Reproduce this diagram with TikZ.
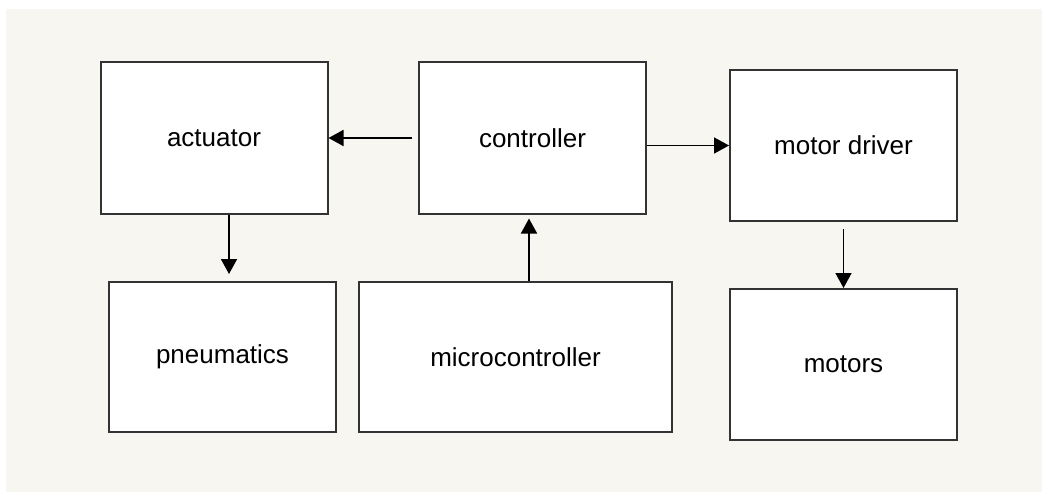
\documentclass[tikz,border=0pt]{standalone}
\usepackage{fontspec}
\setmainfont{Liberation Sans}
\usetikzlibrary{arrows.meta}
\definecolor{paper}{RGB}{248,246,240}
\tikzset{
	block/.style={draw=black!80, line width=2pt, fill=white, minimum width=227pt, minimum height=151pt, inner sep=0pt, font=\fontsize{26}{30}\selectfont},
	arr/.style={line width=1.7pt, -{Triangle[length=15pt,width=16pt]}}
}
\begin{document}
\begin{tikzpicture}[x=1pt,y=-1pt]
	\useasboundingbox[fill=white] (0,0) rectangle (1042,492);
	\fill[paper] (6,9) rectangle (1042,492);
	% top row
	\node[block] (act) at (214,138) {actuator};
	\node[block] (ctrl) at (532.5,138) {controller};
	\node[block] (mdrv) at (843.5,145.5) {motor driver};
	% bottom row
	\node[block, minimum height=150pt] (pneu) at (222.5,357) {pneumatics};
	\node[block, minimum width=313pt, minimum height=150pt] (micro) at (515.5,357) {microcontroller};
	\node[block] (motors) at (843.5,364.5) {motors};
	% arrows
	\draw[arr, shorten <=6pt] (ctrl.west) -- (act.east);
	\draw[arr] (ctrl.east |- mdrv.west) -- (mdrv.west);
	\draw[arr, shorten >=4pt] ([xshift=13.5pt]micro.north) -- ([xshift=13.5pt]micro.north |- ctrl.south);
	\draw[arr, shorten >=7pt] ([xshift=15pt]act.south) -- ([xshift=15pt]act.south |- pneu.north);
	\draw[arr, shorten <=7pt] (mdrv.south) -- (mdrv.south |- motors.north);
\end{tikzpicture}
\end{document}
